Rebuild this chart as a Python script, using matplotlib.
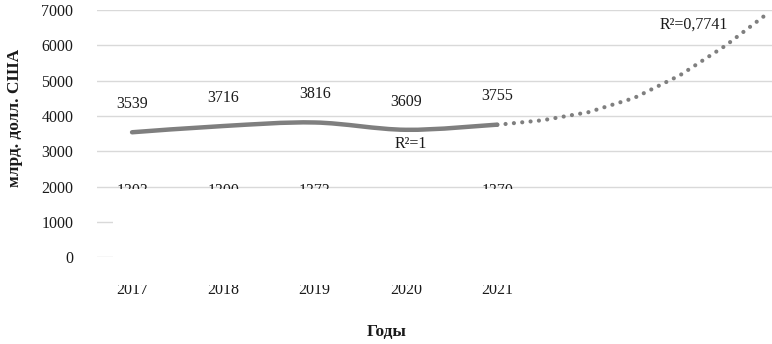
import numpy as np
import matplotlib
matplotlib.use("Agg")
import matplotlib.pyplot as plt
from matplotlib.path import Path
from matplotlib.patches import PathPatch, Rectangle

years = ["2017", "2018", "2019", "2020", "2021"]
values = [3539, 3716, 3816, 3609, 3755]
hidden_labels = ["1303", "1300", "1373", "", "1370"]
hidden_values = [1303, 1300, 1373, 0, 1370]
trend_x = [4.0, 4.5, 5.0, 5.5, 6.0, 6.5, 6.95]
trend_y = [3750, 3880, 4108, 4510, 5150, 5990, 6880]
yticks = [0, 1000, 2000, 3000, 4000, 5000, 6000, 7000]
r2_main = "R²=1"
r2_trend = "R²=0,7741"

plt.rcParams['font.family'] = ['Liberation Serif', 'DejaVu Serif']

W, H = 772, 344
fig = plt.figure(figsize=(W / 100, H / 100), dpi=100)
ax = fig.add_axes([97 / W, 1 - 257.3 / H, 1 - 97 / W, (257.3 - 10) / H])

x = np.arange(len(values))

# smooth line through the values (Catmull-Rom -> cubic Bezier)
pts = np.column_stack([x, values]).astype(float)
verts = [tuple(pts[0])]
codes = [Path.MOVETO]
for i in range(len(pts) - 1):
    p0 = pts[i - 1] if i > 0 else pts[i]
    p1 = pts[i]
    p2 = pts[i + 1]
    p3 = pts[i + 2] if i + 2 < len(pts) else pts[i + 1]
    c1 = p1 + (p2 - p0) / 6.0
    c2 = p2 - (p3 - p1) / 6.0
    verts += [tuple(c1), tuple(c2), tuple(p2)]
    codes += [Path.CURVE4] * 3
ax.add_patch(PathPatch(Path(verts, codes), facecolor='none', edgecolor='#7f7f7f',
                       lw=3.2, capstyle='round', joinstyle='round', zorder=3))

# dotted forecast trend
ax.plot(trend_x, trend_y, color='#7f7f7f', lw=3.0, linestyle=(0, (0.01, 2.0)),
        dash_capstyle='round', zorder=3)

for xi, v in zip(x, values):
    ax.text(xi, v + 800, str(v), ha='center', va='center', fontsize=11.5, color='#1a1a1a')

for xi, lab, v in zip(x, hidden_labels, hidden_values):
    if lab:
        ax.text(xi, 2100, lab, ha='center', va='top', fontsize=11.5, color='#1a1a1a')

ax.text(3.05, 3220, r2_main, ha='center', va='center', fontsize=11.5, color='#1a1a1a')
ax.text(6.15, 6580, r2_trend, ha='center', va='center', fontsize=11.5, color='#1a1a1a')

ax.set_xlim(-0.384, 7.01)
ax.set_ylim(0, 7000)
ax.set_yticks(yticks)
ax.set_yticklabels([str(t) for t in yticks], fontsize=11.5, color='#1a1a1a')
ax.set_xticks(x)
ax.set_xticklabels(years, fontsize=11.5, color='#1a1a1a')
ax.tick_params(axis='y', length=0, pad=17)
ax.tick_params(axis='x', length=0, pad=18)
ax.grid(axis='y', color='#d9d9d9', lw=1.0)
ax.set_axisbelow(True)
for s in ax.spines.values():
    s.set_visible(False)

fig.text(15 / W, 1 - 118 / H, "млрд. долл. США", rotation=90, ha='center', va='center',
         fontsize=12.5, fontweight='bold', color='#1a1a1a')
fig.text(387 / W, 1 - 332 / H, "Годы", ha='center', va='center',
         fontsize=12.5, fontweight='bold', color='#1a1a1a')

# white mask covering the lower part of the plot (as in the reference)
fig.patches.append(Rectangle((113 / W, 1 - 285 / H), 1 - 113 / W, (285 - 189) / H,
                             transform=fig.transFigure, facecolor='white',
                             edgecolor='none', zorder=10))

fig.savefig("out.png", dpi=100)
